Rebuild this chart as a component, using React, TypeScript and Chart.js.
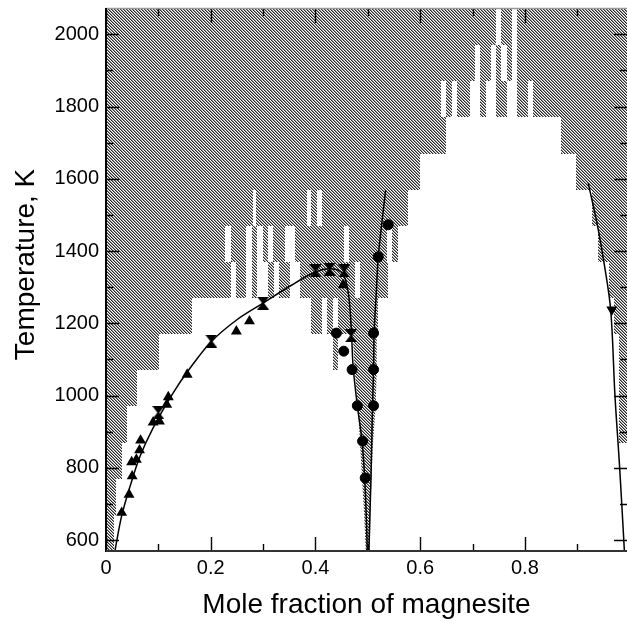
import React, { useEffect, useRef } from "react";
import { Chart, registerables } from "chart.js";

Chart.register(...registerables);

const FONT = "'Liberation Sans', Arial, Helvetica, sans-serif";

// axis ranges
const xRange = [0, 0.995];
const tRange = [570, 2070];

// ticks
const xTickValues = [0, 0.1, 0.2, 0.3, 0.4, 0.5, 0.6, 0.7, 0.8, 0.9];
const xTickLabels = ["0", "", "0.2", "", "0.4", "", "0.6", "", "0.8", ""];
const yTickValues = [600, 700, 800, 900, 1000, 1100, 1200, 1300, 1400, 1500, 1600, 1700, 1800, 1900, 2000];
const yTickLabels = ["600", "", "800", "", "1000", "", "1200", "", "1400", "", "1600", "", "1800", "", "2000"];

// simulated two-phase (hatched) cells: temperature bands of 100 K (upper edge), gray x-intervals
const bandTops = [2070, 1970, 1870, 1770, 1670, 1570, 1470, 1370, 1270, 1170, 1070, 970, 870, 770, 670];
const bandHeight = 100;
const grayBands = [
  [[0, 0.745], [0.755, 0.775], [0.785, 0.995]],
  [[0, 0.705], [0.715, 0.735], [0.745, 0.755], [0.765, 0.775], [0.785, 0.995]],
  [[0, 0.64], [0.65, 0.66], [0.67, 0.695], [0.715, 0.725], [0.745, 0.765], [0.785, 0.805], [0.815, 0.995]],
  [[0, 0.65], [0.868, 0.995]],
  [[0, 0.599], [0.898, 0.995]],
  [[0, 0.28], [0.287, 0.383], [0.391, 0.403], [0.412, 0.577], [0.929, 0.995]],
  [[0, 0.227], [0.238, 0.268], [0.279, 0.289], [0.3, 0.31], [0.319, 0.342], [0.361, 0.454], [0.464, 0.537], [0.546, 0.558], [0.94, 0.995]],
  [[0, 0.238], [0.248, 0.268], [0.278, 0.289], [0.309, 0.32], [0.33, 0.351], [0.37, 0.475], [0.485, 0.538], [0.961, 0.995]],
  [[0, 0.165], [0.392, 0.413], [0.423, 0.434], [0.444, 0.52], [0.97, 0.995]],
  [[0, 0.102], [0.434, 0.444], [0.98, 0.995]],
  [[0, 0.06], [0.98, 0.995]],
  [[0, 0.041], [0.98, 0.995]],
  [[0, 0.03]],
  [[0, 0.019]],
  [[0, 0.016]],
];

// gray wedge of the dolomite field (x, T)
const wedgeLeft = [[0.471, 1170], [0.475, 1070], [0.481, 970], [0.485, 870], [0.489, 770], [0.493, 670], [0.496, 570]];
const wedgeRight = [[0.517, 1170], [0.517, 1070], [0.515, 970], [0.51, 870], [0.507, 770], [0.505, 670], [0.504, 570]];

// curves (x, T)
const calciteCurveX = [0.017, 0.03, 0.046, 0.065, 0.09, 0.128, 0.16, 0.2, 0.25, 0.3, 0.35, 0.4, 0.43, 0.452, 0.462, 0.466, 0.469, 0.472, 0.48, 0.489, 0.494, 0.497, 0.499];
const calciteCurveT = [570, 668, 749, 832, 911, 1007, 1075, 1148, 1210, 1256, 1302, 1342, 1351, 1338, 1290, 1240, 1170, 1080, 972, 874, 772, 670, 570];
const dolomiteCurveX = [0.502, 0.506, 0.509, 0.511, 0.512, 0.516, 0.52, 0.527, 0.534];
const dolomiteCurveT = [570, 770, 972, 1072, 1173, 1280, 1384, 1480, 1568];
const magnesiteCurveX = [0.921, 0.939, 0.952, 0.964, 0.972, 0.98, 0.985, 0.99];
const magnesiteCurveT = [1588, 1468, 1360, 1235, 1000, 823, 700, 570];

// measured points
const upTriX = [0.03, 0.044, 0.05, 0.049, 0.058, 0.064, 0.066, 0.09, 0.102, 0.116, 0.119, 0.155, 0.249, 0.274, 0.453];
const upTriT = [676, 726, 777, 816, 823, 849, 876, 926, 929, 975, 996, 1058, 1178, 1206, 1306];
const bothTriX = [0.1, 0.201, 0.3, 0.4, 0.427, 0.455, 0.468];
const bothTriT = [953, 1151, 1256, 1345, 1350, 1345, 1166];
const downTriX = [0.966];
const downTriT = [1238];
const circleX = [0.44, 0.454, 0.47, 0.48, 0.49, 0.495, 0.511, 0.511, 0.511, 0.52, 0.539];
const circleT = [1173, 1123, 1072, 972, 874, 772, 1173, 1072, 972, 1384, 1473];

const pts = (xs: number[], ts: number[]) => xs.map((x, i) => ({ x, y: ts[i] }));

function makePattern(ctx: CanvasRenderingContext2D) {
  const c = document.createElement("canvas");
  c.width = 3;
  c.height = 3;
  const g = c.getContext("2d")!;
  const cols = ["#262626", "#969696", "#ffffff"];
  for (let y = 0; y < 3; y++) {
    for (let x = 0; x < 3; x++) {
      g.fillStyle = cols[(x - y + 6) % 3];
      g.fillRect(x, y, 1, 1);
    }
  }
  return ctx.createPattern(c, "repeat")!;
}

function makeHourglass() {
  const c = document.createElement("canvas");
  c.width = 12;
  c.height = 13;
  const g = c.getContext("2d")!;
  g.fillStyle = "#000";
  g.beginPath();
  g.moveTo(0, 0);
  g.lineTo(12, 0);
  g.lineTo(7, 6.5);
  g.lineTo(12, 13);
  g.lineTo(0, 13);
  g.lineTo(5, 6.5);
  g.closePath();
  g.fill();
  return c;
}

export default function App() {
  const ref = useRef<HTMLCanvasElement | null>(null);

  useEffect(() => {
    const canvas = ref.current!;
    const ctx0 = canvas.getContext("2d")!;
    const pattern = makePattern(ctx0);
    const hourglass = makeHourglass();

    const bandsPlugin = {
      id: "bands",
      beforeDatasetsDraw(chart: any) {
        const { ctx, chartArea, scales } = chart;
        const xs = scales.x;
        const ys = scales.y;
        ctx.save();
        ctx.beginPath();
        ctx.rect(chartArea.left, chartArea.top, chartArea.right - chartArea.left, chartArea.bottom - chartArea.top);
        ctx.clip();
        ctx.fillStyle = pattern;
        bandTops.forEach((top, i) => {
          const y0 = Math.round(ys.getPixelForValue(top));
          const y1 = Math.round(ys.getPixelForValue(top - bandHeight));
          grayBands[i].forEach(([a, b]) => {
            const x0 = Math.round(xs.getPixelForValue(a));
            const x1 = Math.round(xs.getPixelForValue(b));
            ctx.fillRect(x0, y0, x1 - x0, y1 - y0);
          });
        });
        ctx.beginPath();
        wedgeLeft.forEach(([x, t], i) => {
          const px = xs.getPixelForValue(x);
          const py = ys.getPixelForValue(t);
          if (i === 0) ctx.moveTo(px, py);
          else ctx.lineTo(px, py);
        });
        [...wedgeRight].reverse().forEach(([x, t]) => {
          ctx.lineTo(xs.getPixelForValue(x), ys.getPixelForValue(t));
        });
        ctx.closePath();
        ctx.fill();
        ctx.restore();
      },
    };

    const axesPlugin = {
      id: "axesFrame",
      afterDraw(chart: any) {
        const { ctx, chartArea, scales } = chart;
        const xs = scales.x;
        const ys = scales.y;
        const { left, right, top, bottom } = chartArea;
        ctx.save();
        ctx.strokeStyle = "#000";
        ctx.lineWidth = 1.4;
        xTickValues.forEach((v, i) => {
          const px = Math.round(xs.getPixelForValue(v)) + 0.5;
          const len = xTickLabels[i] ? 14 : 7;
          ctx.beginPath();
          ctx.moveTo(px, bottom);
          ctx.lineTo(px, bottom - len);
          ctx.moveTo(px, top);
          ctx.lineTo(px, top + len);
          ctx.stroke();
        });
        yTickValues.forEach((v, i) => {
          const py = Math.round(ys.getPixelForValue(v)) + 0.5;
          const len = yTickLabels[i] ? 13 : 7;
          ctx.beginPath();
          ctx.moveTo(left, py);
          ctx.lineTo(left + len, py);
          ctx.moveTo(right, py);
          ctx.lineTo(right - len, py);
          ctx.stroke();
        });
        // frame
        ctx.strokeStyle = "#999";
        ctx.lineWidth = 1.5;
        ctx.beginPath();
        ctx.moveTo(left, top - 0.5);
        ctx.lineTo(right, top - 0.5);
        ctx.stroke();
        ctx.strokeStyle = "#000";
        ctx.lineWidth = 2;
        ctx.beginPath();
        ctx.moveTo(left, top - 1);
        ctx.lineTo(left, bottom + 1);
        ctx.stroke();
        ctx.strokeStyle = "#333";
        ctx.beginPath();
        ctx.moveTo(left, bottom);
        ctx.lineTo(right, bottom);
        ctx.stroke();
        ctx.restore();
      },
    };

    const curve = (data: any) => ({
      type: "line",
      data,
      borderColor: "#000",
      borderWidth: 1.5,
      pointRadius: 0,
      tension: 0.35,
      fill: false,
      showLine: true,
    });

    const chart = new Chart(canvas, {
      type: "scatter",
      data: {
        datasets: [
          curve(pts(calciteCurveX, calciteCurveT)),
          curve(pts(dolomiteCurveX, dolomiteCurveT)),
          curve(pts(magnesiteCurveX, magnesiteCurveT)),
          {
            data: pts(upTriX, upTriT),
            pointStyle: "triangle",
            pointRadius: 6.3,
            backgroundColor: "#000",
            borderColor: "#000",
            borderWidth: 0,
          },
          {
            data: pts(downTriX, downTriT),
            pointStyle: "triangle",
            rotation: 180,
            pointRadius: 6.3,
            backgroundColor: "#000",
            borderColor: "#000",
            borderWidth: 0,
          },
          {
            data: pts(bothTriX, bothTriT),
            pointStyle: hourglass,
            pointRadius: 6,
            backgroundColor: "#000",
            borderColor: "#000",
          },
          {
            data: pts(circleX, circleT),
            pointStyle: "circle",
            pointRadius: 5,
            backgroundColor: "#000",
            borderColor: "#000",
            borderWidth: 1,
          },
        ] as any,
      },
      options: {
        responsive: false,
        animation: false,
        layout: { autoPadding: false, padding: { top: 9, right: 0, left: 0, bottom: 0 } },
        plugins: { legend: { display: false }, tooltip: { enabled: false } },
        scales: {
          x: {
            type: "linear",
            min: xRange[0],
            max: xRange[1],
            afterBuildTicks: (s: any) => {
              s.ticks = xTickValues.map((v) => ({ value: v }));
            },
            afterFit: (s: any) => {
              s.height = 75;
              s.paddingLeft = 0;
              s.paddingRight = 0;
            },
            ticks: {
              autoSkip: false,
              maxRotation: 0,
              padding: 5,
              color: "#000",
              font: { family: FONT, size: 20 },
              callback: (_v: any, i: number) => xTickLabels[i],
            },
            grid: { display: false, drawTicks: false },
            border: { display: false },
            title: {
              display: true,
              text: "Mole fraction of magnesite",
              color: "#000",
              font: { family: FONT, size: 28 },
              padding: { top: 0, bottom: 4 },
            },
          },
          y: {
            type: "linear",
            min: tRange[0],
            max: tRange[1],
            afterBuildTicks: (s: any) => {
              s.ticks = yTickValues.map((v) => ({ value: v }));
            },
            afterFit: (s: any) => {
              s.width = 106;
              s.paddingTop = 0;
              s.paddingBottom = 0;
            },
            ticks: {
              autoSkip: false,
              padding: 7,
              color: "#000",
              font: { family: FONT, size: 20 },
              callback: (_v: any, i: number) => yTickLabels[i],
            },
            grid: { display: false, drawTicks: false },
            border: { display: false },
            title: {
              display: true,
              text: "    Temperature, K",
              color: "#000",
              font: { family: FONT, size: 28 },
              padding: { top: 9, bottom: 0 },
            },
          },
        },
      } as any,
      plugins: [bandsPlugin, axesPlugin],
    });

    return () => chart.destroy();
  }, []);

  return (
    <div style={{ position: "absolute", left: 0, top: 0, width: 627, height: 626, background: "#fff" }}>
      <canvas ref={ref} width={627} height={626} style={{ display: "block", width: 627, height: 626 }} />
    </div>
  );
}
